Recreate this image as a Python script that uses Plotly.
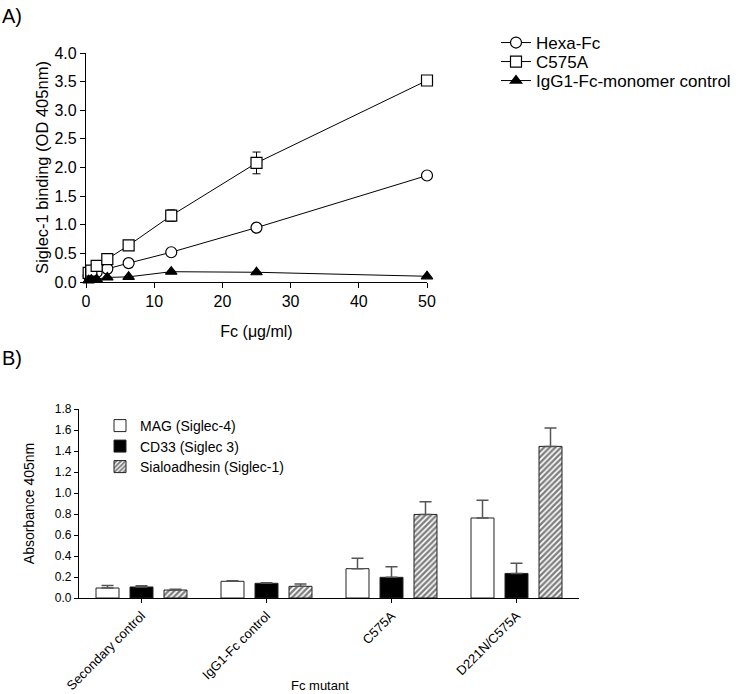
import plotly.graph_objects as go

W, H = 745, 694
FONT = "Liberation Sans, Arial, sans-serif"

# ---------------- Panel A data ----------------
conc = [0.39, 0.78, 1.5625, 3.125, 6.25, 12.5, 25, 50]
hexa_fc = [0.11, 0.14, 0.17, 0.23, 0.33, 0.52, 0.95, 1.86]
hexa_fc_err = [0.01, 0.01, 0.01, 0.02, 0.02, 0.03, 0.04, 0.04]
c575a = [0.16, 0.20, 0.28, 0.40, 0.64, 1.16, 2.08, 3.52]
c575a_err = [0.01, 0.02, 0.02, 0.03, 0.04, 0.10, 0.19, 0.05]
igg1_mono = [0.03, 0.04, 0.05, 0.08, 0.09, 0.18, 0.17, 0.10]
igg1_mono_err = [0.005, 0.005, 0.005, 0.01, 0.01, 0.01, 0.01, 0.01]
a_yticks = [0.0, 0.5, 1.0, 1.5, 2.0, 2.5, 3.0, 3.5, 4.0]
a_xticks = [0, 10, 20, 30, 40, 50]

# ---------------- Panel B data ----------------
mutants = ["Secondary control", "IgG1-Fc control", "C575A", "D221N/C575A"]
mag = [0.095, 0.159, 0.279, 0.762]
mag_err = [0.025, 0.006, 0.10, 0.17]
cd33 = [0.105, 0.140, 0.197, 0.234]
cd33_err = [0.012, 0.006, 0.10, 0.096]
sialo = [0.076, 0.111, 0.796, 1.444]
sialo_err = [0.008, 0.022, 0.12, 0.175]
b_yticks = [0.0, 0.2, 0.4, 0.6, 0.8, 1.0, 1.2, 1.4, 1.6, 1.8]


def px_x(p):
    return p / W


def px_y(p):
    return 1 - p / H


fig = go.Figure()

# Panel A traces (one legend per entry so rows can be placed exactly)
a_series = [
    ("Hexa-Fc", hexa_fc, hexa_fc_err, "circle", "white", 11, "legend"),
    ("C575A", c575a, c575a_err, "square", "white", 11, "legend2"),
    ("IgG1-Fc-monomer control", igg1_mono, igg1_mono_err, "triangle-up",
     "black", 10, "legend3"),
]
for name, ys, err, sym, fill, size, lg in a_series:
    fig.add_trace(go.Scatter(
        x=conc, y=ys, name=name, mode="lines+markers",
        line=dict(color="black", width=1),
        marker=dict(symbol=sym, size=size, color=fill,
                    line=dict(color="black", width=1.2)),
        error_y=dict(type="data", array=err, visible=True,
                     color="black", thickness=1, width=4),
        cliponaxis=False, xaxis="x", yaxis="y", legend=lg, showlegend=True,
    ))

# Panel B traces
b_series = [
    ("MAG (Siglec-4)", mag, mag_err, "white", "", "legend4"),
    ("CD33 (Siglec 3)", cd33, cd33_err, "black", "", "legend5"),
    ("Sialoadhesin (Siglec-1)", sialo, sialo_err, "white", "/", "legend6"),
]
for name, ys, err, fill, pat, lg in b_series:
    fig.add_trace(go.Bar(
        x=mutants, y=ys, name=name,
        marker=dict(color=fill, line=dict(color="#222", width=1),
                    pattern=dict(shape=pat, fgcolor="#000", bgcolor="white",
                                 size=4, solidity=0.6)),
        error_y=dict(type="data", array=err, arrayminus=[0] * len(err),
                     symmetric=False, visible=True, color="#555",
                     thickness=1.5, width=6),
        xaxis="x2", yaxis="y2", legend=lg, showlegend=True,
    ))

axis_common = dict(showline=True, linecolor="black", linewidth=1.3,
                   ticks="outside", tickcolor="black", ticklen=5, tickwidth=1.3,
                   showgrid=False, zeroline=False, mirror=False,
                   automargin=False)


def legend_at(xp, yp, size):
    return dict(x=px_x(xp), y=px_y(yp), xanchor="left", yanchor="middle",
                font=dict(size=size), bgcolor="rgba(0,0,0,0)",
                itemwidth=30, tracegroupgap=0, visible=True)


fig.update_layout(
    width=W, height=H,
    showlegend=True,
    margin=dict(l=0, r=0, t=0, b=0, autoexpand=False),
    paper_bgcolor="white", plot_bgcolor="white",
    font=dict(family=FONT, color="black"),
    barmode="group", bargap=0.184, bargroupgap=0.324,
    xaxis=dict(axis_common, domain=[px_x(86), px_x(427)], range=[0, 50],
               tickvals=a_xticks, tickfont=dict(size=16), anchor="y",
               title=dict(text="Fc (μg/ml)", font=dict(size=16), standoff=16)),
    yaxis=dict(axis_common, domain=[px_y(282), px_y(53)], range=[0, 4],
               tickvals=a_yticks, tickformat=".1f", tickfont=dict(size=16),
               anchor="x",
               title=dict(text="Siglec-1 binding (OD 405nm)", font=dict(size=16.5),
                          standoff=1)),
    xaxis2=dict(axis_common, domain=[px_x(79), px_x(579)], range=[-0.5, 3.5],
                tickangle=-45, tickfont=dict(size=13), ticklen=4, anchor="y2",
                linewidth=1.2, tickwidth=1.2),
    yaxis2=dict(axis_common, domain=[px_y(598), px_y(409)], range=[0, 1.8],
                tickvals=b_yticks, tickformat=".1f", tickfont=dict(size=12),
                ticklen=4, anchor="x2", linewidth=1.2, tickwidth=1.2,
                title=dict(text="Absorbance 405nm", font=dict(size=14),
                           standoff=16)),
    legend=legend_at(496, 43, 17),
    legend2=legend_at(496, 62, 17),
    legend3=legend_at(496, 81, 17),
    legend4=legend_at(100, 426, 14),
    legend5=legend_at(100, 446.5, 14),
    legend6=legend_at(100, 467, 14),
    annotations=[
        dict(text="A)", x=0, y=px_y(16), xref="paper", yref="paper",
             xanchor="left", yanchor="middle", showarrow=False,
             font=dict(size=20)),
        dict(text="B)", x=0, y=px_y(358), xref="paper", yref="paper",
             xanchor="left", yanchor="middle", showarrow=False,
             font=dict(size=20)),
        dict(text="Fc mutant", x=px_x(320), y=px_y(685), xref="paper",
             yref="paper", xanchor="center", yanchor="middle",
             showarrow=False, font=dict(size=13)),
    ],
)

fig.write_html("out.html", config={"displayModeBar": False},
               post_script="document.body.style.margin='0';")
